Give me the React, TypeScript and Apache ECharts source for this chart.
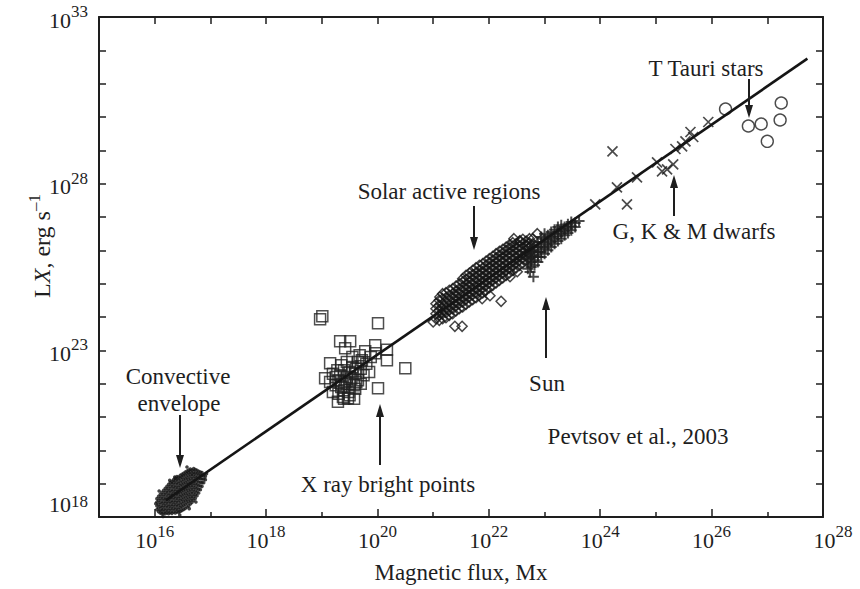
import React, { useEffect, useRef } from "react";
import * as echarts from "echarts";

// ---- data (log10 of magnetic flux [Mx], log10 of LX [erg/s]) ----
// each column: [log flux, [log LX values read at that flux]]
const convectiveColumns: [number, number[]][] = [
  [16.04, [18.22, 18.33, 18.45, 18.55]],
  [16.07, [18.16, 18.27, 18.38, 18.5, 18.62]],
  [16.1, [18.12, 18.21, 18.32, 18.44, 18.56, 18.68]],
  [16.13, [18.1, 18.19, 18.29, 18.4, 18.51, 18.62, 18.74]],
  [16.16, [18.12, 18.23, 18.34, 18.45, 18.56, 18.68, 18.8]],
  [16.19, [18.1, 18.19, 18.3, 18.41, 18.52, 18.63, 18.74, 18.86]],
  [16.22, [18.13, 18.24, 18.35, 18.46, 18.57, 18.69, 18.8, 18.92]],
  [16.25, [18.1, 18.2, 18.31, 18.42, 18.53, 18.64, 18.75, 18.86, 18.98]],
  [16.28, [18.14, 18.25, 18.36, 18.47, 18.58, 18.69, 18.8, 18.92, 19.03]],
  [16.31, [18.11, 18.21, 18.32, 18.43, 18.54, 18.65, 18.76, 18.87, 18.98, 19.07]],
  [16.34, [18.15, 18.26, 18.37, 18.48, 18.59, 18.7, 18.81, 18.92, 19.03, 19.12]],
  [16.37, [18.12, 18.22, 18.33, 18.44, 18.55, 18.66, 18.77, 18.88, 18.99, 19.1, 19.17]],
  [16.4, [18.16, 18.27, 18.38, 18.49, 18.6, 18.71, 18.82, 18.93, 19.04, 19.14, 19.21]],
  [16.43, [18.14, 18.23, 18.34, 18.45, 18.56, 18.67, 18.78, 18.89, 19.0, 19.11, 19.2]],
  [16.46, [18.17, 18.28, 18.39, 18.5, 18.61, 18.72, 18.83, 18.94, 19.05, 19.16, 19.25]],
  [16.49, [18.2, 18.31, 18.42, 18.53, 18.64, 18.75, 18.86, 18.97, 19.08, 19.19, 19.28]],
  [16.52, [18.23, 18.35, 18.46, 18.57, 18.68, 18.79, 18.9, 19.01, 19.12, 19.23, 19.31]],
  [16.55, [18.26, 18.38, 18.49, 18.6, 18.71, 18.82, 18.93, 19.04, 19.15, 19.26, 19.35]],
  [16.58, [18.3, 18.42, 18.53, 18.64, 18.75, 18.86, 18.97, 19.08, 19.19, 19.3, 19.38]],
  [16.61, [18.34, 18.46, 18.57, 18.68, 18.79, 18.9, 19.01, 19.12, 19.23, 19.33, 19.41]],
  [16.64, [18.39, 18.5, 18.61, 18.72, 18.83, 18.94, 19.05, 19.16, 19.27, 19.37, 19.44]],
  [16.67, [18.44, 18.55, 18.66, 18.77, 18.88, 18.99, 19.1, 19.21, 19.31, 19.41]],
  [16.7, [18.5, 18.61, 18.72, 18.83, 18.94, 19.05, 19.16, 19.27, 19.36, 19.45]],
  [16.73, [18.56, 18.67, 18.78, 18.89, 19.0, 19.11, 19.22, 19.32, 19.42]],
  [16.76, [18.64, 18.75, 18.86, 18.97, 19.08, 19.19, 19.3, 19.4]],
  [16.79, [18.72, 18.83, 18.94, 19.05, 19.16, 19.27, 19.37]],
  [16.82, [18.82, 18.93, 19.04, 19.15, 19.26, 19.35]],
  [16.85, [18.92, 19.03, 19.14, 19.25, 19.33]],
  [16.88, [19.03, 19.14, 19.24]],
  [16.91, [19.12, 19.22]],
];
const convectiveStrays: number[][] = [
  [16.02, 18.4], [16.08, 18.78], [16.15, 18.02], [16.27, 19.1], [16.45, 18.06],
  [16.62, 18.25], [16.74, 18.45], [16.93, 19.3], [16.58, 19.5], [16.36, 19.2],
];

const xRayBrightPoints: number[][] = [
  [18.97, 23.93], [19.01, 24.02], [20.01, 23.81], [19.33, 23.27], [19.51, 23.27],
  [19.42, 23.06], [19.96, 23.15], [20.17, 23.02], [19.78, 22.97], [19.96, 22.91],
  [20.17, 22.7], [20.5, 22.46], [19.15, 22.61], [19.06, 22.16], [20.01, 21.86],
  [19.29, 21.46], [19.47, 21.56],
  [19.2, 22.3], [19.3, 22.1], [19.35, 21.9], [19.4, 22.4], [19.45, 22.2], [19.5, 22.0],
  [19.55, 22.5], [19.6, 22.3], [19.65, 22.1], [19.7, 22.45], [19.75, 22.25], [19.3, 21.7],
  [19.4, 21.8], [19.5, 21.65], [19.6, 21.85], [19.45, 22.65], [19.55, 22.8], [19.65, 22.65],
  [19.35, 22.55], [19.25, 21.95], [19.2, 21.75], [19.7, 22.0], [19.8, 22.6], [19.85, 22.35],
  [19.38, 21.6], [19.58, 21.55], [19.5, 22.35], [19.42, 22.05], [19.62, 22.05], [19.28, 22.4],
  [19.72, 22.7], [19.48, 21.75], [19.15, 22.05], [19.33, 22.25], [19.53, 22.15], [19.68, 22.85],
  [19.88, 22.8], [19.25, 22.2], [19.58, 21.95], [19.4, 21.55], [19.62, 22.45], [19.36, 22.0],
];

const activeRegionColumns: [number, number[]][] = [
  [21.05, [23.95, 24.1, 24.25, 24.4]],
  [21.11, [23.9, 24.05, 24.2, 24.35, 24.5]],
  [21.17, [23.95, 24.1, 24.25, 24.4, 24.55, 24.7]],
  [21.23, [23.98, 24.13, 24.28, 24.43, 24.58, 24.73]],
  [21.29, [24.05, 24.2, 24.35, 24.5, 24.65, 24.8]],
  [21.35, [24.1, 24.25, 24.4, 24.55, 24.7, 24.85]],
  [21.41, [24.18, 24.33, 24.48, 24.63, 24.78, 24.93]],
  [21.47, [24.25, 24.4, 24.55, 24.7, 24.85, 25.0]],
  [21.53, [24.3, 24.45, 24.6, 24.75, 24.9, 25.05, 25.15]],
  [21.59, [24.38, 24.53, 24.68, 24.83, 24.98, 25.13, 25.25]],
  [21.65, [24.45, 24.6, 24.75, 24.9, 25.05, 25.2, 25.32]],
  [21.71, [24.52, 24.67, 24.82, 24.97, 25.12, 25.27, 25.4]],
  [21.77, [24.58, 24.73, 24.88, 25.03, 25.18, 25.33, 25.48]],
  [21.83, [24.65, 24.8, 24.95, 25.1, 25.25, 25.4, 25.55]],
  [21.89, [24.72, 24.87, 25.02, 25.17, 25.32, 25.47, 25.6]],
  [21.95, [24.8, 24.95, 25.1, 25.25, 25.4, 25.55, 25.68]],
  [22.01, [24.88, 25.03, 25.18, 25.33, 25.48, 25.63, 25.75]],
  [22.07, [24.95, 25.1, 25.25, 25.4, 25.55, 25.7, 25.82]],
  [22.13, [25.02, 25.17, 25.32, 25.47, 25.62, 25.77, 25.9]],
  [22.19, [25.1, 25.25, 25.4, 25.55, 25.7, 25.85, 25.97]],
  [22.25, [25.17, 25.32, 25.47, 25.62, 25.77, 25.92, 26.03]],
  [22.31, [25.25, 25.4, 25.55, 25.7, 25.85, 26.0, 26.1]],
  [22.37, [25.32, 25.47, 25.62, 25.77, 25.92, 26.07, 26.17]],
  [22.43, [25.4, 25.55, 25.7, 25.85, 26.0, 26.13, 26.23]],
  [22.49, [25.47, 25.62, 25.77, 25.92, 26.07, 26.2]],
  [22.55, [25.55, 25.7, 25.85, 26.0, 26.13, 26.27]],
  [22.61, [25.62, 25.77, 25.92, 26.07, 26.2, 26.33]],
  [22.67, [25.7, 25.85, 26.0, 26.15, 26.28]],
  [22.73, [25.78, 25.93, 26.08, 26.22, 26.35]],
  [22.79, [25.9, 26.05, 26.2, 26.35]],
];
const activeRegionStrays: number[][] = [
  [21.39, 23.72], [21.52, 23.72], [22.22, 24.47], [22.02, 24.64], [21.88, 24.55],
  [22.51, 25.36], [22.38, 25.21], [22.87, 26.5], [22.56, 26.29], [22.69, 26.14],
  [21.0, 23.85], [21.12, 24.6], [22.45, 26.35],
];

const sunColumns: [number, number[]][] = [
  [22.7, [25.45, 25.6, 25.75, 25.9]],
  [22.76, [25.5, 25.65, 25.8, 25.95, 26.1]],
  [22.82, [25.55, 25.7, 25.85, 26.0, 26.15]],
  [22.88, [25.65, 25.8, 25.95, 26.1, 26.25]],
  [22.94, [25.8, 25.95, 26.1, 26.25, 26.4]],
  [23.0, [25.9, 26.05, 26.2, 26.35, 26.5]],
  [23.06, [26.0, 26.15, 26.3, 26.45]],
  [23.12, [26.1, 26.25, 26.4, 26.55]],
  [23.18, [26.2, 26.35, 26.5, 26.62]],
  [23.24, [26.28, 26.42, 26.56, 26.7]],
  [23.3, [26.35, 26.5, 26.64, 26.75]],
  [23.36, [26.45, 26.58, 26.7]],
  [23.42, [26.52, 26.65, 26.78]],
  [23.48, [26.6, 26.72, 26.85]],
  [23.55, [26.7, 26.82]],
  [23.62, [26.88]],
];
const sunStrays: number[][] = [[22.8, 25.21], [22.74, 25.35]];

const gkmDwarfs: number[][] = [
  [24.22, 28.97], [23.91, 27.38], [24.3, 27.89], [24.48, 27.38], [24.66, 28.19],
  [25.02, 28.64], [25.11, 28.37], [25.2, 28.43], [25.31, 28.58], [25.35, 29.04],
  [25.47, 29.12], [25.62, 29.55], [25.67, 29.4], [25.94, 29.85], [25.53, 29.27],
];

const tTauriStars: number[][] = [
  [26.25, 30.24], [26.66, 29.73], [26.89, 29.79], [27.0, 29.27], [27.25, 30.42], [27.23, 29.91],
];

const fitLine: number[][] = [
  [16.2, 18.5], [27.72, 31.75],
];

const xLabelExponents = [16, 18, 20, 22, 24, 26, 28];
const yLabelExponents = [18, 23, 28, 33];

const fromColumns = (cols: [number, number[]][]) =>
  cols.flatMap(([x, ys]) => ys.map((y) => [x, y]));

// ---- styles ----
const SERIF = "Liberation Serif, Times New Roman, serif";
const INK = "#1e1e1e";

const baseTok = { fontFamily: SERIF, fontSize: 22, color: INK };
const supTok = { fontFamily: SERIF, fontSize: 17, color: INK, verticalAlign: "top" };

const richLabel = {
  b: { ...baseTok, lineHeight: 28, verticalAlign: "bottom" },
  s: { ...supTok },
  // last x label sits a little right of its tick
  bR: { ...baseTok, lineHeight: 28, verticalAlign: "bottom", padding: [0, 0, 0, 20] },
  // lowest y label is lifted clear of the corner
  bU: { ...baseTok, verticalAlign: "top", padding: [0, 0, 26, 0] },
  sU: { ...supTok, verticalAlign: "top" },
};

function fmtX(v: number) {
  const r = Math.round(v);
  if (Math.abs(v - r) > 1e-6 || xLabelExponents.indexOf(r) < 0) return "";
  if (r === xLabelExponents[xLabelExponents.length - 1]) return `{bR|10}{s|${r}}`;
  return `{b|10}{s|${r}}`;
}
function fmtY(v: number) {
  const r = Math.round(v);
  if (Math.abs(v - r) > 1e-6 || yLabelExponents.indexOf(r) < 0) return "";
  if (r === yLabelExponents[0]) return `{bU|10}{sU|${r}}`;
  return `{b|10}{s|${r}}`;
}

const annotations = [
  { text: "Convective", x: 178, y: 376 },
  { text: "envelope", x: 179, y: 403 },
  { text: "X ray bright points", x: 388, y: 484 },
  { text: "Solar active regions", x: 449, y: 191 },
  { text: "Sun", x: 547, y: 383 },
  { text: "T Tauri stars", x: 706, y: 68 },
  { text: "G, K & M dwarfs", x: 694, y: 231 },
  { text: "Pevtsov et al., 2003", x: 638, y: 436 },
];

const arrows = [
  { x: 180, tail: 415, tip: 468 },
  { x: 380, tail: 465, tip: 404 },
  { x: 474, tail: 206, tip: 250 },
  { x: 546, tail: 358, tip: 297 },
  { x: 749, tail: 79, tip: 118 },
  { x: 674, tail: 216, tip: 175 },
];

function arrowGraphics() {
  const out: any[] = [];
  for (const a of arrows) {
    const dir = a.tip > a.tail ? 1 : -1;
    const headLen = 13;
    const base = a.tip - dir * headLen;
    out.push({
      type: "line",
      shape: { x1: a.x, y1: a.tail, x2: a.x, y2: base + dir * 2 },
      style: { stroke: INK, lineWidth: 2 },
      z: 100,
    });
    out.push({
      type: "polygon",
      shape: { points: [[a.x - 4, base], [a.x + 4, base], [a.x, a.tip]] },
      style: { fill: INK },
      z: 100,
    });
  }
  return out;
}

export default function App() {
  const ref = useRef<HTMLDivElement>(null);

  useEffect(() => {
    if (!ref.current) return;
    const chart = echarts.init(ref.current, null, { renderer: "svg" });

    const axisLine = { show: true, onZero: false, lineStyle: { color: INK, width: 2 } };
    const tickStyle = { color: INK, width: 1.5 };

    const option: any = {
      animation: false,
      backgroundColor: "#ffffff",
      textStyle: { fontFamily: SERIF },
      grid: { left: 99, right: 37, top: 17, bottom: 70, containLabel: false },
      xAxis: [
        {
          type: "value",
          position: "bottom",
          min: 15,
          max: 28,
          minInterval: 2,
          maxInterval: 2,
          axisLine,
          axisTick: { show: true, inside: true, length: 8, lineStyle: tickStyle },
          minorTick: { show: true, splitNumber: 2, length: 5, lineStyle: tickStyle },
          splitLine: { show: false },
          minorSplitLine: { show: false },
          axisLabel: {
            formatter: fmtX,
            margin: 6,
            fontFamily: SERIF,
            fontSize: 22,
            color: INK,
            rich: richLabel,
          },
          name: "Magnetic flux, Mx",
          nameLocation: "middle",
          nameGap: 44,
          nameTextStyle: { fontFamily: SERIF, fontSize: 23, color: INK },
        },
        {
          type: "value",
          position: "top",
          min: 15,
          max: 28,
          minInterval: 1,
          maxInterval: 1,
          axisLine,
          axisTick: { show: true, inside: true, length: 7, lineStyle: tickStyle },
          splitLine: { show: false },
          axisLabel: { show: false },
        },
      ],
      yAxis: [
        {
          type: "value",
          position: "left",
          min: 18,
          max: 33,
          interval: 1,
          axisLine,
          axisTick: { show: true, inside: true, length: 7, lineStyle: tickStyle },
          splitLine: { show: false },
          axisLabel: {
            formatter: fmtY,
            margin: 11,
            fontFamily: SERIF,
            fontSize: 22,
            color: INK,
            rich: richLabel,
          },
        },
        {
          type: "value",
          position: "right",
          min: 18,
          max: 33,
          interval: 1,
          axisLine,
          axisTick: { show: true, inside: true, length: 7, lineStyle: tickStyle },
          splitLine: { show: false },
          axisLabel: { show: false },
        },
      ],
      series: [
        {
          name: "Convective envelope",
          type: "scatter",
          data: [...fromColumns(convectiveColumns), ...convectiveStrays],
          symbol: "circle",
          symbolSize: 3.6,
          itemStyle: { color: "#151515" },
          silent: true,
        },
        {
          name: "X ray bright points",
          type: "scatter",
          data: xRayBrightPoints,
          symbol: "rect",
          symbolSize: 11,
          itemStyle: { color: "transparent", borderColor: "#222", borderWidth: 1.5 },
          silent: true,
        },
        {
          name: "Solar active regions",
          type: "scatter",
          data: [...fromColumns(activeRegionColumns), ...activeRegionStrays],
          symbol: "diamond",
          symbolSize: 10,
          itemStyle: { color: "transparent", borderColor: "#161616", borderWidth: 1.5 },
          silent: true,
        },
        {
          name: "Sun",
          type: "scatter",
          data: [...fromColumns(sunColumns), ...sunStrays],
          symbol: "path://M5,0V10M0,5H10",
          symbolSize: 11,
          itemStyle: { color: "transparent", borderColor: INK, borderWidth: 2 },
          silent: true,
        },
        {
          name: "G, K & M dwarfs",
          type: "scatter",
          data: gkmDwarfs,
          symbol: "path://M0,0L10,10M10,0L0,10",
          symbolSize: 10,
          itemStyle: { color: "transparent", borderColor: INK, borderWidth: 1.7 },
          silent: true,
        },
        {
          name: "T Tauri stars",
          type: "scatter",
          data: tTauriStars,
          symbol: "circle",
          symbolSize: 12,
          itemStyle: { color: "transparent", borderColor: INK, borderWidth: 1.4 },
          silent: true,
        },
        {
          name: "Fit",
          type: "line",
          data: fitLine,
          showSymbol: false,
          symbol: "none",
          lineStyle: { color: "#151515", width: 2.6 },
          z: 5,
          silent: true,
        },
      ],
      graphic: [
        ...annotations.map((a) => ({
          type: "text",
          x: a.x,
          y: a.y,
          z: 100,
          style: {
            text: a.text,
            fill: INK,
            fontFamily: SERIF,
            fontSize: 23,
            align: "center",
            verticalAlign: "middle",
            textAlign: "center",
            textVerticalAlign: "middle",
          },
        })),
        {
          type: "text",
          x: 40,
          y: 246,
          rotation: Math.PI / 2,
          z: 100,
          style: {
            text: "{n|L}{i|X}{n|, erg s}{s|–1}",
            align: "center",
            verticalAlign: "middle",
            textAlign: "center",
            textVerticalAlign: "middle",
            rich: {
              n: { fontFamily: SERIF, fontSize: 24, fill: INK, color: INK, lineHeight: 28, verticalAlign: "bottom" },
              i: { fontFamily: SERIF, fontSize: 24, fontStyle: "italic", fill: INK, color: INK, lineHeight: 28, verticalAlign: "bottom" },
              s: { fontFamily: SERIF, fontSize: 17, fill: INK, color: INK, verticalAlign: "top" },
            },
          },
        },
        ...arrowGraphics(),
      ],
    };

    chart.setOption(option);
    return () => chart.dispose();
  }, []);

  return (
    <div
      ref={ref}
      style={{ position: "fixed", left: 0, top: 0, width: 860, height: 589, background: "#fff" }}
    />
  );
}
